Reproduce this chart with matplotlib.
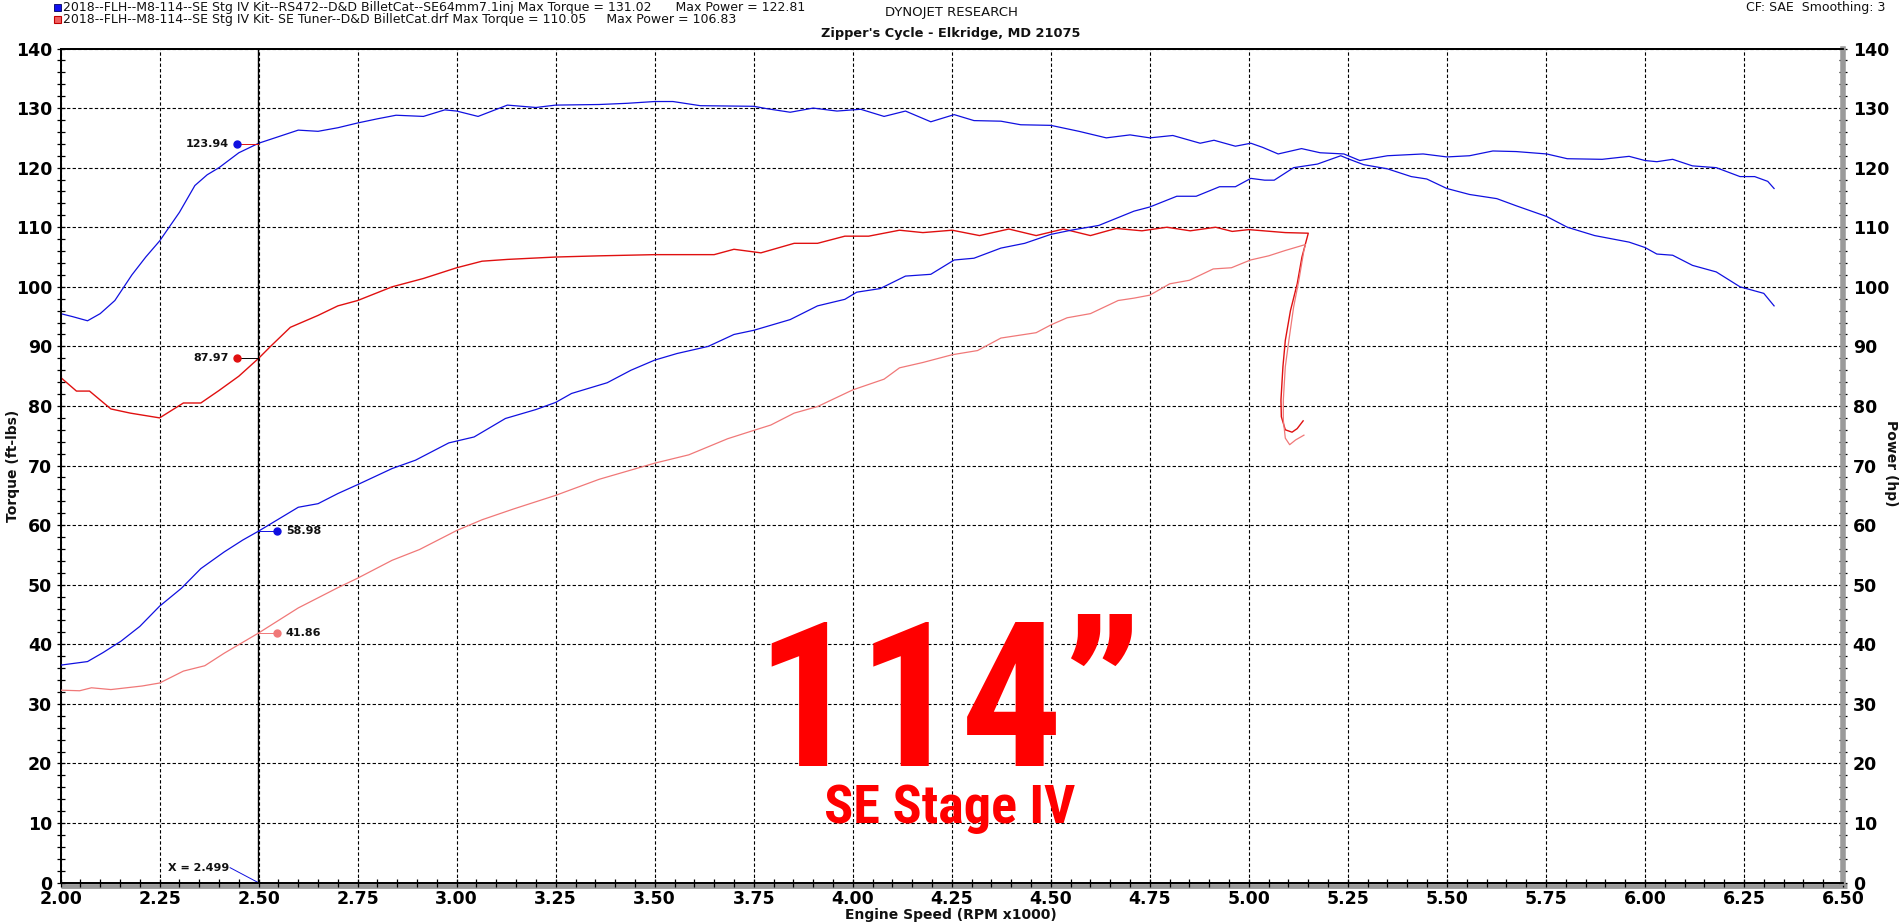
import matplotlib
matplotlib.use("Agg")
import matplotlib.pyplot as plt
from matplotlib.patches import Rectangle
from matplotlib.transforms import offset_copy

# ---- run 1 (blue): SE64mm7.1inj ----
tq1_rpm = [2.000, 2.030, 2.068, 2.100, 2.137, 2.180, 2.215, 2.250, 2.300, 2.339, 2.370, 2.400,
           2.450, 2.500, 2.541, 2.600, 2.650, 2.700, 2.750, 2.800, 2.847, 2.916, 2.970, 3.000,
           3.054, 3.128, 3.200, 3.250, 3.360, 3.430, 3.500, 3.546, 3.615, 3.750, 3.783, 3.842,
           3.900, 3.960, 4.020, 4.079, 4.133, 4.197, 4.256, 4.306, 4.374, 4.424, 4.500, 4.571,
           4.640, 4.700, 4.750, 4.808, 4.877, 4.912, 4.966, 5.005, 5.035, 5.074, 5.133, 5.180,
           5.240, 5.280, 5.350, 5.440, 5.500, 5.557, 5.616, 5.675, 5.752, 5.804, 5.892, 5.960,
           6.000, 6.030, 6.070, 6.120, 6.180, 6.240, 6.277, 6.310, 6.326]
tq1 = [95.5, 95.0, 94.3, 95.5, 97.7, 102.0, 105.0, 107.7, 112.5, 117.0, 118.8, 120.0,
       122.5, 124.1, 125.0, 126.3, 126.1, 126.7, 127.5, 128.2, 128.8, 128.6, 129.7, 129.5,
       128.6, 130.5, 130.1, 130.5, 130.6, 130.8, 131.1, 131.1, 130.4, 130.3, 129.9, 129.3,
       130.0, 129.5, 129.8, 128.6, 129.5, 127.7, 128.9, 127.9, 127.8, 127.2, 127.1, 126.1,
       125.0, 125.5, 125.0, 125.4, 124.1, 124.6, 123.6, 124.1, 123.4, 122.3, 123.2, 122.5,
       122.3, 121.2, 122.0, 122.3, 121.8, 122.0, 122.8, 122.7, 122.3, 121.5, 121.4, 121.9,
       121.2, 121.0, 121.4, 120.3, 120.0, 118.5, 118.5, 117.7, 116.5]

hp1_rpm = [2.000, 2.068, 2.107, 2.152, 2.200, 2.250, 2.305, 2.354, 2.413, 2.460, 2.500, 2.550,
           2.600, 2.650, 2.700, 2.750, 2.837, 2.896, 2.980, 3.044, 3.123, 3.200, 3.250, 3.290,
           3.380, 3.440, 3.500, 3.556, 3.635, 3.700, 3.750, 3.842, 3.911, 3.980, 4.010, 4.069,
           4.133, 4.197, 4.256, 4.306, 4.374, 4.434, 4.500, 4.551, 4.621, 4.710, 4.750, 4.818,
           4.867, 4.926, 4.966, 5.005, 5.040, 5.064, 5.113, 5.173, 5.232, 5.250, 5.290, 5.350,
           5.410, 5.449, 5.500, 5.557, 5.626, 5.675, 5.752, 5.804, 5.873, 5.960, 6.000, 6.030,
           6.070, 6.120, 6.180, 6.240, 6.300, 6.326]
hp1 = [36.5, 37.1, 38.6, 40.5, 43.0, 46.4, 49.4, 52.7, 55.5, 57.5, 59.0, 61.0,
       63.0, 63.6, 65.3, 66.8, 69.5, 70.9, 73.8, 74.8, 77.9, 79.4, 80.6, 82.1,
       83.9, 86.0, 87.7, 88.8, 90.0, 92.0, 92.7, 94.5, 96.8, 97.9, 99.1, 99.7,
       101.8, 102.1, 104.5, 104.8, 106.5, 107.3, 108.8, 109.5, 110.3, 112.7, 113.4, 115.2,
       115.2, 116.8, 116.8, 118.2, 117.9, 117.9, 120.0, 120.6, 122.0, 121.5, 120.5, 119.8,
       118.5, 118.1, 116.5, 115.5, 114.8, 113.6, 111.8, 110.0, 108.6, 107.5, 106.6, 105.5,
       105.3, 103.6, 102.5, 100.0, 98.9, 96.8]

# ---- run 2 (red): SE Tuner ----
tq2_rpm = [2.000, 2.040, 2.073, 2.100, 2.127, 2.176, 2.250, 2.310, 2.354, 2.400, 2.450, 2.500,
           2.530, 2.580, 2.650, 2.700, 2.750, 2.837, 2.916, 3.000, 3.064, 3.128, 3.250, 3.360,
           3.500, 3.650, 3.700, 3.768, 3.852, 3.911, 3.980, 4.040, 4.118, 4.177, 4.251, 4.320,
           4.394, 4.463, 4.532, 4.600, 4.665, 4.730, 4.793, 4.852, 4.916, 4.958, 5.000, 5.092,
           5.150, 5.134, 5.122, 5.105, 5.092, 5.086, 5.081, 5.082, 5.092, 5.109, 5.122, 5.137]
tq2 = [84.8, 82.5, 82.5, 81.0, 79.5, 78.8, 78.0, 80.5, 80.5, 82.6, 85.0, 88.0,
       90.0, 93.2, 95.2, 96.8, 97.7, 100.0, 101.4, 103.2, 104.3, 104.6, 105.0, 105.2,
       105.4, 105.4, 106.3, 105.7, 107.3, 107.3, 108.5, 108.5, 109.5, 109.1, 109.5, 108.6,
       109.7, 108.6, 109.7, 108.6, 109.8, 109.4, 110.0, 109.4, 110.0, 109.3, 109.6, 109.1,
       109.0, 105.0, 100.5, 96.0, 91.0, 86.6, 81.0, 78.2, 76.0, 75.6, 76.2, 77.5]

hp2_rpm = [2.000, 2.048, 2.078, 2.127, 2.206, 2.250, 2.310, 2.364, 2.413, 2.500, 2.600, 2.700,
           2.750, 2.837, 2.906, 3.000, 3.064, 3.143, 3.250, 3.360, 3.500, 3.586, 3.684, 3.750,
           3.793, 3.852, 3.911, 4.000, 4.079, 4.118, 4.177, 4.251, 4.315, 4.374, 4.463, 4.500,
           4.541, 4.600, 4.670, 4.710, 4.750, 4.800, 4.850, 4.910, 4.956, 5.004, 5.050, 5.092,
           5.143, 5.139, 5.126, 5.113, 5.101, 5.092, 5.087, 5.087, 5.092, 5.103, 5.118, 5.139]
hp2 = [32.3, 32.2, 32.7, 32.4, 33.0, 33.5, 35.5, 36.4, 38.5, 41.9, 46.1, 49.5,
       51.1, 54.1, 55.9, 59.1, 60.9, 62.7, 65.0, 67.7, 70.4, 71.8, 74.5, 75.9,
       76.8, 78.8, 79.9, 82.7, 84.5, 86.4, 87.3, 88.6, 89.3, 91.4, 92.3, 93.6,
       94.8, 95.5, 97.7, 98.1, 98.6, 100.5, 101.1, 103.0, 103.2, 104.5, 105.2, 106.1,
       107.1, 106.1, 101.0, 96.6, 91.0, 86.6, 81.0, 77.6, 74.6, 73.5, 74.3, 75.1]

cursor_x = 2.499
cursor_vals = [123.94, 87.97, 58.98, 41.86]

x_ticks = [2.00, 2.25, 2.50, 2.75, 3.00, 3.25, 3.50, 3.75, 4.00, 4.25, 4.50, 4.75,
           5.00, 5.25, 5.50, 5.75, 6.00, 6.25, 6.50]
y_ticks = list(range(0, 141, 10))

run_names = ["2018--FLH--M8-114--SE Stg IV Kit--RS472--D&D BilletCat--SE64mm7.1inj Max Torque = 131.02      Max Power = 122.81",
             "2018--FLH--M8-114--SE Stg IV Kit- SE Tuner--D&D BilletCat.drf Max Torque = 110.05     Max Power = 106.83"]

BLUE = "#1010e0"
RED = "#e01010"
PINK = "#f07878"
W, H = 1901, 923
BIG_FONT = ["Roboto Condensed", "Liberation Sans", "DejaVu Sans"]

fig = plt.figure(figsize=(W / 100, H / 100), dpi=100)
fig.patch.set_facecolor("white")
ax = fig.add_axes([60.6 / W, (H - 882.6) / H, 1782.4 / W, 834.1 / H])
ax2 = ax.twinx()

for a in (ax, ax2):
    a.set_xlim(2.0, 6.5)
    a.set_ylim(0, 140)

# grid
ax.grid(True, which="major", color="black", linestyle=(0, (3, 2)), linewidth=0.8)
ax.set_axisbelow(True)

# curves
ax.plot(tq1_rpm, tq1, color=BLUE, lw=0.9, zorder=3)
ax.plot(tq2_rpm, tq2, color=RED, lw=1.0, zorder=3)
ax2.plot(hp1_rpm, hp1, color=BLUE, lw=0.9, zorder=3)
ax2.plot(hp2_rpm, hp2, color=PINK, lw=0.9, zorder=3)

# cursor line + readouts
ax.axvline(cursor_x, color="black", lw=1.0, zorder=4)
lab_kw = dict(fontsize=8, fontweight="bold", color="#111111", va="center", zorder=6)
ax.plot([2.446, cursor_x], [cursor_vals[0], cursor_vals[0]], color=RED, lw=0.7, zorder=5)
ax.plot([2.446], [cursor_vals[0]], "o", color=BLUE, ms=5, zorder=6)
ax.text(2.425, cursor_vals[0], f"{cursor_vals[0]:.2f}", ha="right", **lab_kw)
ax.plot([2.446, cursor_x], [cursor_vals[1], cursor_vals[1]], color="black", lw=0.7, zorder=5)
ax.plot([2.446], [cursor_vals[1]], "o", color=RED, ms=5, zorder=6)
ax.text(2.425, cursor_vals[1], f"{cursor_vals[1]:.2f}", ha="right", **lab_kw)
ax.plot([cursor_x, 2.547], [cursor_vals[2], cursor_vals[2]], color=BLUE, lw=0.7, zorder=5)
ax.plot([2.547], [cursor_vals[2]], "o", color=BLUE, ms=5, zorder=6)
ax.text(2.569, cursor_vals[2], f"{cursor_vals[2]:.2f}", ha="left", **lab_kw)
ax.plot([cursor_x, 2.547], [cursor_vals[3], cursor_vals[3]], color=PINK, lw=0.7, zorder=5)
ax.plot([2.547], [cursor_vals[3]], "o", color=PINK, ms=5, zorder=6)
ax.text(2.569, cursor_vals[3], f"{cursor_vals[3]:.2f}", ha="left", **lab_kw)
ax.plot([2.428, cursor_x], [2.5, 0.0], color=BLUE, lw=0.7, zorder=5)
ax.text(2.425, 2.5, f"X = {cursor_x:.3f}", ha="right", **lab_kw)

# big red overlay text
ax.text(4.243, 19.5, "114\u201d", color="#ff0000", fontsize=146, fontweight="heavy",
        family=BIG_FONT, ha="center", va="baseline", zorder=7)
ax.text(4.245, 10.0, "SE Stage IV", color="#ff0000", fontsize=39, fontweight="heavy",
        family=BIG_FONT, ha="center", va="baseline", zorder=7)

# ticks
ax.set_xticks(x_ticks, [f"{v:.2f}" for v in x_ticks], fontsize=12.5, fontweight="bold")
ax.set_xticks([2.0 + 0.05 * i for i in range(91)], minor=True)
ax.set_yticks(y_ticks, [str(v) for v in y_ticks], fontsize=12.5, fontweight="bold")
ax.set_yticks(range(0, 141, 2), minor=True)
ax2.set_yticks(y_ticks, [str(v) for v in y_ticks], fontsize=12.5, fontweight="bold")
ax2.set_yticks(range(0, 141, 2), minor=True)
ax.tick_params(axis="x", which="both", direction="inout", length=6, width=0.9, pad=2, top=False)
ax.tick_params(axis="y", which="both", direction="inout", length=6, width=0.9, pad=3)
ax2.tick_params(axis="y", which="both", direction="inout", length=6, width=0.9, pad=4)

for a in (ax, ax2):
    for s in a.spines.values():
        s.set_color("black")
        s.set_linewidth(1.3)
ax2.spines["right"].set_color("#9a9a9a")
ax2.spines["right"].set_linewidth(4)

# gray shadow under x axis
shadow = offset_copy(ax.transAxes, fig=fig, x=0, y=-3, units="dots")
ax.plot([0, 1.002], [0, 0], transform=shadow, color="#9a9a9a", lw=3.5, clip_on=False,
        solid_capstyle="butt", zorder=0)


# header / side labels in figure pixels
def fx(px):
    return px / W


def fy(py):
    return 1 - py / H


fig.text(fx(951), fy(915.5), "Engine Speed (RPM x1000)", fontsize=10, fontweight="bold",
         ha="center", va="center", color="#111111")
fig.text(fx(12.5), fy(465.5), "Torque (ft-lbs)", fontsize=10, fontweight="bold",
         rotation=90, ha="center", va="center", color="#111111")
fig.text(fx(1891), fy(463), "Power (hp)", fontsize=10, fontweight="bold",
         rotation=-90, ha="center", va="center", color="#111111")

fig.patches.append(Rectangle((fx(54), fy(11)), 7 / W, 7 / H, transform=fig.transFigure,
                             facecolor="#1010f0", edgecolor="#000060", lw=0.6))
fig.patches.append(Rectangle((fx(54), fy(23)), 7 / W, 7 / H, transform=fig.transFigure,
                             facecolor="#f06060", edgecolor="#c00000", lw=0.8))
fig.text(fx(63), fy(7), run_names[0], fontsize=9, va="center", color="#111111")
fig.text(fx(63), fy(19), run_names[1], fontsize=9, va="center", color="#111111")
fig.text(fx(951), fy(12.5), "DYNOJET RESEARCH", fontsize=9.5, ha="center", va="center",
         color="#111111")
fig.text(fx(951), fy(33), "Zipper's Cycle - Elkridge, MD 21075", fontsize=9.25,
         fontweight="bold", ha="center", va="center", color="#111111")
fig.text(fx(1885), fy(7.5), "CF: SAE  Smoothing: 3", fontsize=9, ha="right", va="center",
         color="#111111")

fig.savefig("out.png", dpi=100)
